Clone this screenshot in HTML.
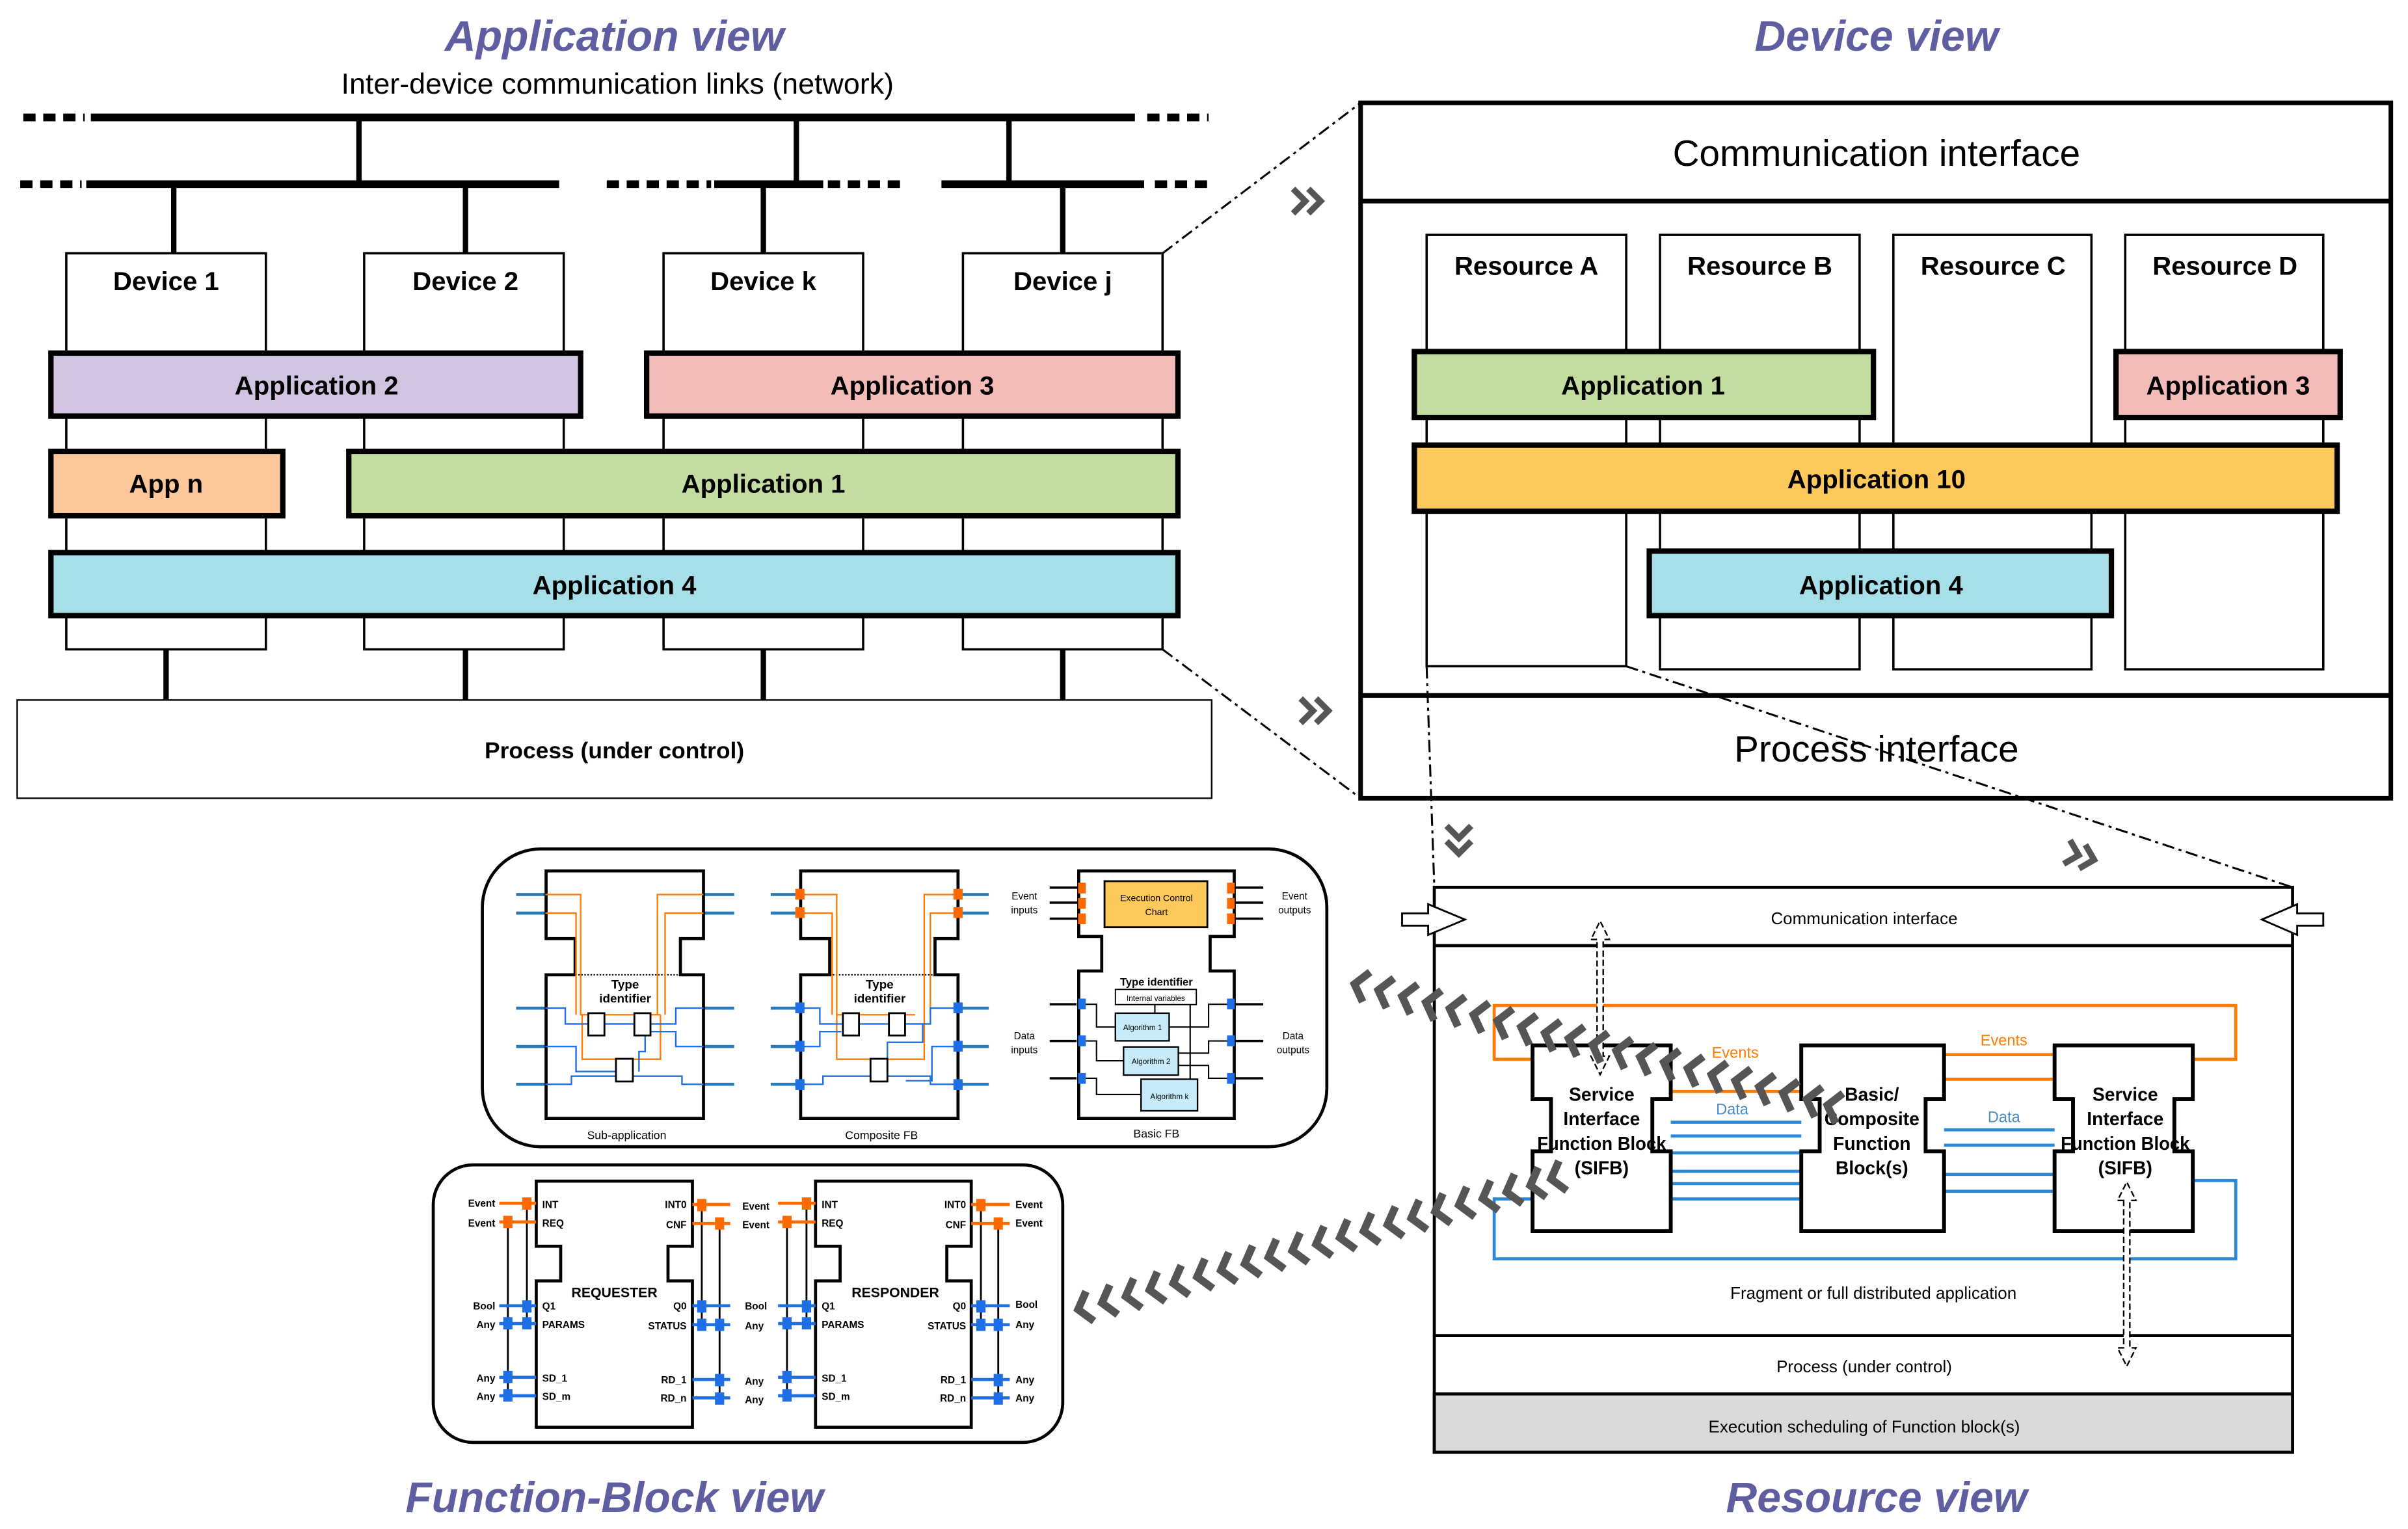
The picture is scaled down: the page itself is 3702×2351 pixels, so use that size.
<!DOCTYPE html>
<html><head><meta charset="utf-8"><style>
html,body{margin:0;padding:0;background:#fff;}
svg{display:block;}
text{font-family:"Liberation Sans",sans-serif;}
</style></head><body>
<svg width="3702" height="2351" viewBox="0 0 1568 996" xmlns="http://www.w3.org/2000/svg">
<defs>
<path id="ch" d="M8,-10 L0,0 L8,10" fill="none" stroke="#555" stroke-width="5"/>
<path id="chr" d="M0,-8 L8,0 L0,8" fill="none" stroke="#555" stroke-width="4"/>
</defs>
<rect width="1568" height="996" fill="#fff"/>

<!-- Titles -->
<g font-weight="bold" font-style="italic" font-size="28" fill="#5e5ea0" text-anchor="middle">
<text x="400" y="33">Application view</text>
<text x="1222" y="33">Device view</text>
<text x="400" y="985">Function-Block view</text>
<text x="1222" y="985">Resource view</text>
</g>
<text x="402" y="61" font-size="19" text-anchor="middle">Inter-device communication links (network)</text>

<!-- Network -->
<g stroke="#000" stroke-width="5" fill="none">
<line x1="59" y1="76.5" x2="739" y2="76.5"/>
<line x1="56" y1="120" x2="364" y2="120"/>
<line x1="465" y1="120" x2="536" y2="120"/>
<line x1="613" y1="120" x2="745" y2="120"/>
<g stroke-dasharray="8,5">
<line x1="15" y1="76.5" x2="55" y2="76.5"/>
<line x1="747" y1="76.5" x2="787" y2="76.5"/>
<line x1="13" y1="120" x2="53" y2="120"/>
<line x1="395" y1="120" x2="463" y2="120"/>
<line x1="539" y1="120" x2="590" y2="120"/>
<line x1="752" y1="120" x2="789" y2="120"/>
</g>
</g>
<g stroke="#000" stroke-width="3.5">
<line x1="233.6" y1="76" x2="233.6" y2="120"/>
<line x1="518.5" y1="76" x2="518.5" y2="120"/>
<line x1="657" y1="76" x2="657" y2="120"/>
<line x1="113" y1="120" x2="113" y2="165"/>
<line x1="303" y1="120" x2="303" y2="165"/>
<line x1="497" y1="120" x2="497" y2="165"/>
<line x1="692" y1="120" x2="692" y2="165"/>
<line x1="108" y1="423" x2="108" y2="456"/>
<line x1="303" y1="423" x2="303" y2="456"/>
<line x1="497" y1="423" x2="497" y2="456"/>
<line x1="692" y1="423" x2="692" y2="456"/>
</g>

<!-- Devices -->
<g fill="#fff" stroke="#000" stroke-width="1.5">
<rect x="43" y="165" width="130" height="258"/>
<rect x="237" y="165" width="130" height="258"/>
<rect x="432" y="165" width="130" height="258"/>
<rect x="627" y="165" width="130" height="258"/>
</g>
<g font-size="17" font-weight="bold" text-anchor="middle">
<text x="108" y="189">Device 1</text>
<text x="303" y="189">Device 2</text>
<text x="497" y="189">Device k</text>
<text x="692" y="189">Device j</text>
</g>
<g stroke="#000" stroke-width="3.5">
<rect x="33" y="230" width="345" height="41" fill="#d1c4e1"/>
<rect x="421" y="230" width="346" height="41" fill="#f4bcb8"/>
<rect x="33" y="294" width="151" height="42" fill="#fcc89b"/>
<rect x="227" y="294" width="540" height="42" fill="#c3dca0"/>
<rect x="33" y="360" width="734" height="41" fill="#a7dfe8"/>
</g>
<g font-size="17" font-weight="bold" text-anchor="middle">
<text x="206" y="257">Application 2</text>
<text x="594" y="257">Application 3</text>
<text x="108" y="321">App n</text>
<text x="497" y="321">Application 1</text>
<text x="400" y="387">Application 4</text>
</g>
<rect x="11" y="456" width="778" height="64" fill="#fff" stroke="#000" stroke-width="1"/>
<text x="400" y="494" font-size="15" font-weight="bold" text-anchor="middle">Process (under control)</text>

<!-- Device view -->
<rect x="886" y="67" width="671" height="453" fill="#fff" stroke="#000" stroke-width="3"/>
<line x1="886" y1="131" x2="1557" y2="131" stroke="#000" stroke-width="3"/>
<line x1="886" y1="453" x2="1557" y2="453" stroke="#000" stroke-width="3"/>
<text x="1222" y="108" font-size="24" text-anchor="middle">Communication interface</text>
<g fill="#fff" stroke="#000" stroke-width="1.5">
<rect x="929" y="153" width="130" height="281"/>
<rect x="1081" y="153" width="130" height="283"/>
<rect x="1233" y="153" width="129" height="283"/>
<rect x="1384" y="153" width="129" height="283"/>
</g>
<g font-size="17" font-weight="bold" text-anchor="middle">
<text x="994" y="179">Resource A</text>
<text x="1146" y="179">Resource B</text>
<text x="1298" y="179">Resource C</text>
<text x="1449" y="179">Resource D</text>
</g>
<g stroke="#000" stroke-width="3.5">
<rect x="921" y="229" width="299" height="43" fill="#c3dca0"/>
<rect x="1378" y="229" width="146" height="43" fill="#f4bcb8"/>
<rect x="921" y="290" width="601" height="43" fill="#fdc95b"/>
<rect x="1074" y="359" width="301" height="42" fill="#a7dfe8"/>
</g>
<g font-size="17" font-weight="bold" text-anchor="middle">
<text x="1070" y="257">Application 1</text>
<text x="1451" y="257">Application 3</text>
<text x="1222" y="318">Application 10</text>
<text x="1225" y="387">Application 4</text>
</g>
<text x="1222" y="496" font-size="24" text-anchor="middle">Process interface</text>

<!-- dash-dot connectors -->
<g stroke="#000" stroke-width="1.3" stroke-dasharray="8,3,2,3" fill="none">
<line x1="757" y1="165" x2="886" y2="67"/>
<line x1="757" y1="423" x2="886" y2="520"/>
<line x1="929" y1="434" x2="934" y2="578"/>
<line x1="1059" y1="434" x2="1493" y2="578"/>
</g>
<use href="#chr" x="842" y="131"/><use href="#chr" x="852" y="131"/>
<use href="#chr" x="847" y="463"/><use href="#chr" x="857" y="463"/>
<use href="#chr" transform="translate(1346,555) rotate(15)"/><use href="#chr" transform="translate(1356,558) rotate(15)"/>
<g transform="translate(950,548) rotate(90)"><use href="#chr" x="-10" y="0"/><use href="#chr" x="0" y="0"/></g>

<!-- Resource view -->
<rect x="934" y="578" width="559" height="368" fill="#fff" stroke="#000" stroke-width="2"/>
<line x1="934" y1="616" x2="1493" y2="616" stroke="#000" stroke-width="2"/>
<line x1="934" y1="870" x2="1493" y2="870" stroke="#000" stroke-width="2"/>
<rect x="934" y="908" width="559" height="38" fill="#d9d9d9" stroke="#000" stroke-width="2"/>
<g font-size="11" text-anchor="middle">
<text x="1214" y="602">Communication interface</text>
<text x="1220" y="846">Fragment or full distributed application</text>
<text x="1214" y="894">Process (under control)</text>
<text x="1214" y="933">Execution scheduling of Function block(s)</text>
</g>
<g fill="#fff" stroke="#000" stroke-width="1.2">
<path d="M913,595 H930 V589 L954,599 L930,609 V603 H913 Z"/>
<path d="M1513,595 H1496 V589 L1473,599 L1496,609 V603 H1513 Z"/>
</g>
<!-- wires -->
<g fill="none" stroke="#ff7a00" stroke-width="2">
<path d="M998,690 H973 V655 H1456 V690 H1428"/>
<path d="M1088,711 H1173"/>
<path d="M1266,687 H1338 M1266,703 H1338"/>
</g>
<g fill="none" stroke="#2a88d8" stroke-width="2">
<path d="M1088,731 H1173 M1088,740 H1173 M1088,751 H1173 M1088,763 H1173 M1088,771 H1173 M1088,781 H1173"/>
<path d="M1266,736 H1338 M1266,746 H1338 M1266,765 H1338 M1266,776 H1338"/>
<path d="M998,781 H973 V820 H1456 V769 H1428"/>
</g>
<text x="1130" y="689" font-size="10" fill="#ff7a00" text-anchor="middle">Events</text>
<text x="1305" y="681" font-size="10" fill="#ff7a00" text-anchor="middle">Events</text>
<text x="1128" y="726" font-size="10" fill="#4a8ac0" text-anchor="middle">Data</text>
<text x="1305" y="731" font-size="10" fill="#4a8ac0" text-anchor="middle">Data</text>
<g fill="#fff" stroke="#000" stroke-width="2.5">
<path d="M998,681 H1088 V716 H1076 V750 H1088 V802 H998 V750 H1010 V716 H998 Z"/>
<path d="M1173,681 H1266 V716 H1254 V750 H1266 V802 H1173 V750 H1185 V716 H1173 Z"/>
<path d="M1338,681 H1428 V716 H1416 V750 H1428 V802 H1338 V750 H1350 V716 H1338 Z"/>
</g>
<g font-size="12" font-weight="bold" text-anchor="middle">
<text x="1043" y="717">Service</text><text x="1043" y="733">Interface</text><text x="1043" y="749" textLength="84" lengthAdjust="spacingAndGlyphs">Function Block</text><text x="1043" y="765">(SIFB)</text>
<text x="1219" y="717">Basic/</text><text x="1219" y="733">Composite</text><text x="1219" y="749">Function</text><text x="1219" y="765">Block(s)</text>
<text x="1384" y="717">Service</text><text x="1384" y="733">Interface</text><text x="1384" y="749" textLength="84" lengthAdjust="spacingAndGlyphs">Function Block</text><text x="1384" y="765">(SIFB)</text>
</g>
<g fill="#fff" stroke="#000" stroke-width="1" stroke-dasharray="4,2">
<path d="M1040,612 H1036 L1042,600 L1048,612 H1044 V688 H1048 L1042,700 L1036,688 H1040 Z"/>
<path d="M1383,782 H1379 L1385,770 L1391,782 H1387 V878 H1391 L1385,890 L1379,878 H1383 Z"/>
</g>

<!-- Chevron streams -->
<g>
<use href="#ch" transform="translate(882,641) rotate(14)"/>
<use href="#ch" transform="translate(897.5,645) rotate(14)"/>
<use href="#ch" transform="translate(913,649) rotate(14)"/>
<use href="#ch" transform="translate(928.5,653) rotate(14)"/>
<use href="#ch" transform="translate(944,657) rotate(14)"/>
<use href="#ch" transform="translate(959.5,661) rotate(14)"/>
<use href="#ch" transform="translate(975,665) rotate(14)"/>
<use href="#ch" transform="translate(990.5,669) rotate(14)"/>
<use href="#ch" transform="translate(1006,673) rotate(14)"/>
<use href="#ch" transform="translate(1021.5,676.5) rotate(14)"/>
<use href="#ch" transform="translate(1037,680.5) rotate(14)"/>
<use href="#ch" transform="translate(1052.5,684.5) rotate(14)"/>
<use href="#ch" transform="translate(1068,688.5) rotate(14)"/>
<use href="#ch" transform="translate(1083.5,692) rotate(14)"/>
<use href="#ch" transform="translate(1099,696) rotate(14)"/>
<use href="#ch" transform="translate(1114.5,700) rotate(14)"/>
<use href="#ch" transform="translate(1130,704) rotate(14)"/>
<use href="#ch" transform="translate(1145.5,708) rotate(14)"/>
<use href="#ch" transform="translate(1161,712) rotate(14)"/>
<use href="#ch" transform="translate(1176.5,716) rotate(14)"/>
<use href="#ch" transform="translate(1190,720) rotate(14)"/>
<use href="#ch" transform="translate(702,853) rotate(-15)"/>
<use href="#ch" transform="translate(717.5,848.75) rotate(-15)"/>
<use href="#ch" transform="translate(733,844.5) rotate(-15)"/>
<use href="#ch" transform="translate(748.5,840.25) rotate(-15)"/>
<use href="#ch" transform="translate(764,836) rotate(-15)"/>
<use href="#ch" transform="translate(779.5,831.75) rotate(-15)"/>
<use href="#ch" transform="translate(795,827.5) rotate(-15)"/>
<use href="#ch" transform="translate(810.5,823.25) rotate(-15)"/>
<use href="#ch" transform="translate(826,819) rotate(-15)"/>
<use href="#ch" transform="translate(841.5,814.75) rotate(-15)"/>
<use href="#ch" transform="translate(857,810.5) rotate(-15)"/>
<use href="#ch" transform="translate(872.5,806.25) rotate(-15)"/>
<use href="#ch" transform="translate(888,802) rotate(-15)"/>
<use href="#ch" transform="translate(903.5,797.75) rotate(-15)"/>
<use href="#ch" transform="translate(919,793.5) rotate(-15)"/>
<use href="#ch" transform="translate(934.5,789.25) rotate(-15)"/>
<use href="#ch" transform="translate(950,785) rotate(-15)"/>
<use href="#ch" transform="translate(965.5,780.75) rotate(-15)"/>
<use href="#ch" transform="translate(981,776.5) rotate(-15)"/>
<use href="#ch" transform="translate(996.5,772.25) rotate(-15)"/>
<use href="#ch" transform="translate(1010,768) rotate(-15)"/>
</g>

<!-- FB view panel 1 -->
<rect x="314" y="553" width="550" height="194" rx="38" fill="none" stroke="#000" stroke-width="2"/>
<g>
<g stroke="#2a7ab8" stroke-width="2">
<path d="M336,582.7 H355 M336,594.8 H355 M458,582.7 H478 M458,594.8 H478 M336,656.7 H355 M336,681.7 H355 M336,706.3 H355 M458,656.7 H478 M458,681.7 H478 M458,706.3 H478"/>
</g>
<path d="M355.5,567.3 H458 V611.4 H443 V635 H458 V728.5 H355.5 V635 H374.4 V611.4 H355.5 Z" fill="none" stroke="#000" stroke-width="2"/>
<line x1="374.4" y1="635" x2="443" y2="635" stroke="#000" stroke-width="0.8" stroke-dasharray="1,1"/>
<g fill="none" stroke="#ff7a00" stroke-width="1">
<path d="M355,582.7 H378 V661 H430 M355,594.8 H375 V661 M458,582.7 H428 V661 M458,594.8 H433 V661 M379,661 V690 H430 V661"/>
</g>
<g fill="none" stroke="#1e6ee6" stroke-width="1">
<path d="M355,656.7 H368 V667 H440 V656.7 H458 M355,681.7 H375 V698 H412 M458,681.7 H440 V672 H420 V685 H416 V698 M355,706.3 H372 V701 H444 V706.3 H458"/>
</g>
<g fill="#fff" stroke="#000" stroke-width="1.2">
<rect x="383" y="660" width="10.5" height="14.5"/>
<rect x="413" y="660" width="10.5" height="14.5"/>
<rect x="401" y="689.7" width="11" height="14.8"/>
</g>
<text x="407" y="644" font-size="8" font-weight="bold" text-anchor="middle">Type</text>
<text x="407" y="653" font-size="8" font-weight="bold" text-anchor="middle">identifier</text>
</g>
<text x="408" y="742" font-size="7.5" text-anchor="middle">Sub-application</text>

<g transform="translate(165.8,0)">
<g stroke="#2a7ab8" stroke-width="2">
<path d="M336,582.7 H355 M336,594.8 H355 M458,582.7 H478 M458,594.8 H478 M336,656.7 H355 M336,681.7 H355 M336,706.3 H355 M458,656.7 H478 M458,681.7 H478 M458,706.3 H478"/>
</g>
<path d="M355.5,567.3 H458 V611.4 H443 V635 H458 V728.5 H355.5 V635 H374.4 V611.4 H355.5 Z" fill="none" stroke="#000" stroke-width="2"/>
<line x1="374.4" y1="635" x2="443" y2="635" stroke="#000" stroke-width="0.8" stroke-dasharray="1,1"/>
<g fill="none" stroke="#ff7a00" stroke-width="1">
<path d="M355,582.7 H379 V661 H430 M355,594.8 H376 V661 M458,582.7 H436 V661 M458,594.8 H440 V661 M379,661 V690 H436 V661"/>
</g>
<g fill="none" stroke="#1e6ee6" stroke-width="1">
<path d="M355,656.7 H368 V667 H440 V656.7 H458 M355,681.7 H368 V672 H382 M458,681.7 H441 V704 H424 M355,706.3 H370 V701 H440 V706.3 H458 M412,690 V679 H435 V667"/>
</g>
<g fill="#ff6a00">
<rect x="352" y="579" width="6" height="7"/><rect x="352" y="591" width="6" height="7"/>
<rect x="455" y="579" width="6" height="7"/><rect x="455" y="591" width="6" height="7"/>
</g>
<g fill="#1e6ee6">
<rect x="352" y="653" width="6" height="7"/><rect x="352" y="678" width="6" height="7"/><rect x="352" y="703" width="6" height="7"/>
<rect x="455" y="653" width="6" height="7"/><rect x="455" y="678" width="6" height="7"/><rect x="455" y="703" width="6" height="7"/>
</g>
<g fill="#fff" stroke="#000" stroke-width="1.2">
<rect x="383" y="660" width="10.5" height="14.5"/>
<rect x="413" y="660" width="10.5" height="14.5"/>
<rect x="401" y="689.7" width="11" height="14.8"/>
</g>
<text x="407" y="644" font-size="8" font-weight="bold" text-anchor="middle">Type</text>
<text x="407" y="653" font-size="8" font-weight="bold" text-anchor="middle">identifier</text>
</g>
<text x="574" y="742" font-size="7.5" text-anchor="middle">Composite FB</text>

<!-- Basic FB -->
<g stroke="#000" stroke-width="1.5">
<path d="M683.5,578.2 H719 M683.5,588 H719 M683.5,598.4 H719 M786,578.2 H822.6 M786,588 H822.6 M786,598.4 H822.6"/>
<path d="M683.5,654.2 H701 M683.5,678.1 H701 M683.5,702.4 H701 M803.7,654.2 H822.6 M803.7,678.1 H822.6 M803.7,702.4 H822.6"/>
</g>
<path d="M702.4,567.3 H803.7 V610 H788 V632.5 H803.7 V728.5 H702.4 V632.5 H717.4 V610 H702.4 Z" fill="#fff" stroke="#000" stroke-width="2"/>
<rect x="719.2" y="574" width="67" height="30" fill="#fdc95b" stroke="#000" stroke-width="1.2"/>
<text x="753" y="587" font-size="6" text-anchor="middle">Execution Control</text>
<text x="753" y="596" font-size="6" text-anchor="middle">Chart</text>
<g fill="#ff6a00">
<rect x="702" y="575" width="5" height="7"/><rect x="702" y="585" width="5" height="7"/><rect x="702" y="595" width="5" height="7"/>
<rect x="799" y="575" width="5" height="7"/><rect x="799" y="585" width="5" height="7"/><rect x="799" y="595" width="5" height="7"/>
</g>
<text x="753" y="642" font-size="7" font-weight="bold" text-anchor="middle">Type identifier</text>
<rect x="726.3" y="644.5" width="52.7" height="9.9" fill="#fff" stroke="#000" stroke-width="0.8"/>
<text x="752.6" y="652" font-size="5" text-anchor="middle">Internal variables</text>
<g fill="#c6ebf9" stroke="#000" stroke-width="1">
<rect x="726.3" y="660" width="35" height="18"/>
<rect x="731.6" y="682" width="35.7" height="18.3"/>
<rect x="743" y="703" width="36.8" height="20.6"/>
</g>
<g font-size="5" text-anchor="middle">
<text x="744" y="671">Algorithm 1</text><text x="749.5" y="693">Algorithm 2</text><text x="761.5" y="716">Algorithm k</text>
</g>
<g fill="none" stroke="#000" stroke-width="0.9">
<path d="M707,654.2 H714 V669 H726 M707,678.1 H714 V691 H731.6 M707,702.4 H714 V713 H743 M761.3,669 H787 V654.2 H800 M767.3,686 H787 V678.1 H800 M767.3,694 H787 V702.4 H800 M752,654.4 V660 M775,654.4 V703"/>
</g>
<g fill="#1e6ee6">
<rect x="702" y="650.5" width="5" height="7"/><rect x="702" y="674.5" width="5" height="7"/><rect x="702" y="699" width="5" height="7"/>
<rect x="799" y="650.5" width="5" height="7"/><rect x="799" y="674.5" width="5" height="7"/><rect x="799" y="699" width="5" height="7"/>
</g>
<g font-size="6.5" text-anchor="middle">
<text x="667" y="586">Event</text><text x="667" y="595">inputs</text>
<text x="843" y="586">Event</text><text x="843" y="595">outputs</text>
<text x="667" y="677">Data</text><text x="667" y="686">inputs</text>
<text x="842" y="677">Data</text><text x="842" y="686">outputs</text>
</g>
<text x="753" y="741" font-size="7.5" text-anchor="middle">Basic FB</text>

<!-- FB view panel 2 -->
<rect x="282" y="758.8" width="410" height="180.8" rx="26" fill="none" stroke="#000" stroke-width="2"/>
<g fill="#fff" stroke="#000" stroke-width="2">
<path d="M349.1,769.4 H450.8 V811.8 H434.9 V834.4 H450.8 V929.7 H349.1 V834.4 H365 V811.8 H349.1 Z"/>
<path d="M531,769.4 H632.4 V811.8 H616.5 V834.4 H632.4 V929.7 H531 V834.4 H547 V811.8 H531 Z"/>
</g>
<g stroke="#000" stroke-width="1.2">
<line x1="330.6" y1="796" x2="330.6" y2="909"/><line x1="343" y1="784" x2="343" y2="862"/>
<line x1="456.9" y1="784.6" x2="456.9" y2="863"/><line x1="468.5" y1="797" x2="468.5" y2="910.6"/>
<line x1="512.4" y1="796" x2="512.4" y2="909"/><line x1="525.1" y1="784" x2="525.1" y2="862"/>
<line x1="638.7" y1="784.6" x2="638.7" y2="863"/><line x1="650" y1="797" x2="650" y2="910.6"/>
</g>
<g stroke="#ff6a00" stroke-width="2">
<path d="M325,783.8 H349 M325,796 H349 M450.8,784.6 H475.4 M450.8,797 H475.4 M506.6,783.8 H531 M506.6,796 H531 M632.4,784.6 H657.5 M632.4,797 H657.5"/>
</g>
<g stroke="#1e6ee6" stroke-width="2">
<path d="M325,850.6 H349 M325,862.2 H349 M325,897.2 H349 M325,909.2 H349 M450.8,850.6 H475.4 M450.8,862.9 H475.4 M450.8,898.6 H475.4 M450.8,910.6 H475.4"/>
<path d="M506.6,850.6 H531 M506.6,862.2 H531 M506.6,897.2 H531 M506.6,909.2 H531 M632.4,850.6 H657.5 M632.4,862.9 H657.5 M632.4,898.6 H657.5 M632.4,910.6 H657.5"/>
</g>
<g fill="#ff6a00">
<rect x="340" y="780" width="6" height="8"/><rect x="327.6" y="792" width="6" height="8"/>
<rect x="453.9" y="781" width="6" height="8"/><rect x="465.5" y="793" width="6" height="8"/>
<rect x="522.1" y="780" width="6" height="8"/><rect x="509.4" y="792" width="6" height="8"/>
<rect x="635.7" y="781" width="6" height="8"/><rect x="647" y="793" width="6" height="8"/>
</g>
<g fill="#1e6ee6">
<rect x="340" y="847" width="6" height="8"/><rect x="327.6" y="858" width="6" height="8"/><rect x="340" y="858" width="6" height="8"/><rect x="327.6" y="893" width="6" height="8"/><rect x="327.6" y="905" width="6" height="8"/>
<rect x="453.9" y="847" width="6" height="8"/><rect x="453.9" y="859" width="6" height="8"/><rect x="465.5" y="859" width="6" height="8"/><rect x="465.5" y="895" width="6" height="8"/><rect x="465.5" y="907" width="6" height="8"/>
<rect x="522.1" y="847" width="6" height="8"/><rect x="509.4" y="858" width="6" height="8"/><rect x="522.1" y="858" width="6" height="8"/><rect x="509.4" y="893" width="6" height="8"/><rect x="509.4" y="905" width="6" height="8"/>
<rect x="635.7" y="847" width="6" height="8"/><rect x="635.7" y="859" width="6" height="8"/><rect x="647" y="859" width="6" height="8"/><rect x="647" y="895" width="6" height="8"/><rect x="647" y="907" width="6" height="8"/>
</g>
<g font-size="6.5" font-weight="bold">
<text x="353" y="787">INT</text><text x="353" y="799">REQ</text><text x="353" y="853">Q1</text><text x="353" y="865">PARAMS</text><text x="353" y="900">SD_1</text><text x="353" y="912">SD_m</text>
<text x="535" y="787">INT</text><text x="535" y="799">REQ</text><text x="535" y="853">Q1</text><text x="535" y="865">PARAMS</text><text x="535" y="900">SD_1</text><text x="535" y="912">SD_m</text>
</g>
<g font-size="6.5" font-weight="bold" text-anchor="end">
<text x="447" y="787">INT0</text><text x="447" y="800">CNF</text><text x="447" y="853">Q0</text><text x="447" y="866">STATUS</text><text x="447" y="901">RD_1</text><text x="447" y="913">RD_n</text>
<text x="629" y="787">INT0</text><text x="629" y="800">CNF</text><text x="629" y="853">Q0</text><text x="629" y="866">STATUS</text><text x="629" y="901">RD_1</text><text x="629" y="913">RD_n</text>
</g>
<g font-size="6.5" font-weight="bold" text-anchor="end">
<text x="322.4" y="786">Event</text><text x="322.4" y="799">Event</text><text x="322.4" y="853">Bool</text><text x="322.4" y="865">Any</text><text x="322.4" y="900">Any</text><text x="322.4" y="912">Any</text>
</g>
<g font-size="6.5" font-weight="bold">
<text x="483.3" y="788">Event</text><text x="483.3" y="800">Event</text><text x="485" y="853">Bool</text><text x="485" y="866">Any</text><text x="485" y="902">Any</text><text x="485" y="914">Any</text>
<text x="661.2" y="787">Event</text><text x="661.2" y="799">Event</text><text x="661.2" y="852">Bool</text><text x="661.2" y="865">Any</text><text x="661.2" y="901">Any</text><text x="661.2" y="913">Any</text>
</g>
<g font-size="9" font-weight="bold" text-anchor="middle">
<text x="400" y="845">REQUESTER</text>
<text x="583" y="845">RESPONDER</text>
</g>
</svg>
</body></html>
